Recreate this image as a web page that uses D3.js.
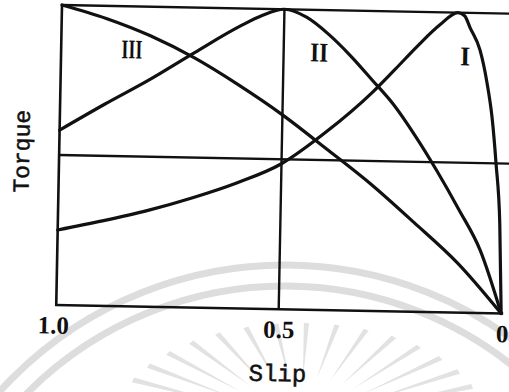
<!DOCTYPE html>
<html>
<head>
<meta charset="utf-8">
<script src="https://cdn.jsdelivr.net/npm/d3@7"></script>
<style>
  html, body { margin: 0; padding: 0; background: #fff; }
  svg { display: block; }
</style>
</head>
<body>
<div id="chart"></div>
<script>
// Torque–slip characteristics for three rotor resistances (I, II, III).
// Torque is normalised to the common breakdown torque (1.0).

const slipI    = [1.0, 0.9, 0.8, 0.7, 0.6, 0.5, 0.4, 0.3, 0.25, 0.2, 0.15, 0.11, 0.095, 0.082, 0.059, 0.042, 0.029, 0.018, 0.007, 0];
const torqueI  = [0.25, 0.283, 0.32, 0.365, 0.418, 0.485, 0.595, 0.727, 0.805, 0.885, 0.958, 1.0, 0.99, 0.95, 0.877, 0.77, 0.654, 0.5, 0.3, 0];

const slipII   = [1.0, 0.9, 0.8, 0.7, 0.6, 0.55, 0.5, 0.45, 0.4, 0.35, 0.3, 0.25, 0.2, 0.15, 0.1, 0.05, 0];
const torqueII = [0.583, 0.672, 0.757, 0.85, 0.94, 0.978, 1.0, 0.975, 0.92, 0.85, 0.77, 0.688, 0.585, 0.47, 0.345, 0.21, 0];

const slipIII   = [1.0, 0.9, 0.8, 0.7, 0.6, 0.5, 0.4, 0.3, 0.2, 0.1, 0];
const torqueIII = [1.0, 0.958, 0.903, 0.832, 0.745, 0.648, 0.538, 0.425, 0.298, 0.165, 0];

const curveNames  = ["I", "II", "III"];
const labelSlip   = [0.092, 0.42, 0.841];
const labelTorque = [0.856, 0.86, 0.858];

const slipTicks = [1.0, 0.5, 0];
const refTorque = [0.5, 1.0];   // half and full breakdown torque
const refSlip   = [0.5];

const width = 509, height = 392;
const W = 445, H = 300;

const svg = d3.select("#chart").append("svg")
  .attr("width", width).attr("height", height)
  .attr("viewBox", [0, 0, width, height]);

// faint emblem in the background paper
const emblem = svg.append("g").attr("fill", "none");
[385, 364].forEach(r => {
  emblem.append("circle").attr("cx", 285).attr("cy", 650).attr("r", r)
    .attr("stroke", "#dddddd").attr("stroke-width", 7);
});
const rays = d3.range(196, 346, 9.5);
emblem.selectAll("path.ray").data(rays).join("path")
  .attr("class", "ray")
  .attr("fill", "#e2e2e2")
  .attr("d", a => {
    const t = a * Math.PI / 180, cx = 300, cy = 423, rx = 185, ry = 100;
    const ox = cx + rx * Math.cos(t), oy = cy + ry * Math.sin(t);
    const ix = cx + rx * 0.45 * Math.cos(t), iy = cy + ry * 0.45 * Math.sin(t);
    const nx = -Math.sin(t) * 2.6, ny = Math.cos(t) * 2.6;
    return `M${ox + nx},${oy + ny}L${ox - nx},${oy - ny}L${ix},${iy}Z`;
  });

// plot area (page is set slightly askew)
const g = svg.append("g").attr("transform", "rotate(1.1, 62, 5) translate(62,5)");

const x = d3.scaleLinear().domain([1, 0]).range([0, W]);
const y = d3.scaleLinear().domain([0, 1]).range([H, 0]);

const ink = "#111";

// frame
g.append("line").attr("x1", x(1)).attr("x2", x(1)).attr("y1", y(1) - 1).attr("y2", y(0) + 1)
  .attr("stroke", ink).attr("stroke-width", 2.6);
g.append("line").attr("x1", x(1) - 1).attr("x2", x(0) + 2).attr("y1", y(0)).attr("y2", y(0))
  .attr("stroke", ink).attr("stroke-width", 2.6);

// reference lines
g.selectAll("line.href").data(refTorque).join("line")
  .attr("class", "href")
  .attr("x1", x(1)).attr("x2", x(0) + 12)
  .attr("y1", d => y(d)).attr("y2", d => y(d))
  .attr("stroke", ink).attr("stroke-width", 2.4);
g.selectAll("line.vref").data(refSlip).join("line")
  .attr("class", "vref")
  .attr("x1", d => x(d)).attr("x2", d => x(d))
  .attr("y1", y(1)).attr("y2", y(0))
  .attr("stroke", ink).attr("stroke-width", 2.4);

// curves
const series = [
  d3.zip(slipI, torqueI),
  d3.zip(slipII, torqueII),
  d3.zip(slipIII, torqueIII)
];
const line = d3.line().x(d => x(d[0])).y(d => y(d[1])).curve(d3.curveMonotoneX);
g.selectAll("path.curve").data(series).join("path")
  .attr("class", "curve")
  .attr("fill", "none").attr("stroke", ink).attr("stroke-width", 3.2)
  .attr("stroke-linejoin", "round").attr("stroke-linecap", "round")
  .attr("d", line);

// curve labels
g.selectAll("text.name").data(curveNames).join("text")
  .attr("class", "name")
  .attr("x", (d, i) => x(labelSlip[i]))
  .attr("y", (d, i) => y(labelTorque[i]))
  .attr("dy", "0.35em")
  .attr("text-anchor", "middle")
  .attr("font-family", "Liberation Serif, serif")
  .attr("font-weight", "bold")
  .attr("font-size", 27)
  .attr("fill", ink)
  .attr("textLength", d => d === "III" ? 21 : (d === "II" ? 18 : 10))
  .attr("lengthAdjust", "spacingAndGlyphs")
  .text(d => d);

// slip axis
const axis = d3.axisBottom(x)
  .tickValues(slipTicks)
  .tickSize(0)
  .tickPadding(11)
  .tickFormat(d => d === 0 ? "0" : d3.format(".1f")(d));
const ax = g.append("g").attr("transform", `translate(0,${H})`).call(axis);
ax.select(".domain").remove();
ax.selectAll("text")
  .attr("font-family", "Liberation Serif, serif")
  .attr("font-weight", "bold")
  .attr("font-size", 25)
  .attr("fill", ink);
ax.selectAll(".tick").filter(d => d === 0).select("text").attr("dx", 1);
ax.selectAll(".tick").filter(d => d === 1).select("text").attr("dx", -3);

// axis titles
g.append("text")
  .attr("x", W / 2).attr("y", H + 72)
  .attr("text-anchor", "middle")
  .attr("font-family", "Liberation Mono, monospace")
  .attr("font-size", 24)
  .attr("fill", ink).attr("stroke", ink).attr("stroke-width", 0.5)
  .text("Slip");
g.append("text")
  .attr("transform", `translate(-30,${H / 2 - 3}) rotate(-90)`)
  .attr("text-anchor", "middle")
  .attr("font-family", "Liberation Mono, monospace")
  .attr("font-size", 23)
  .attr("fill", ink).attr("stroke", ink).attr("stroke-width", 0.5)
  .text("Torque");
</script>
</body>
</html>
